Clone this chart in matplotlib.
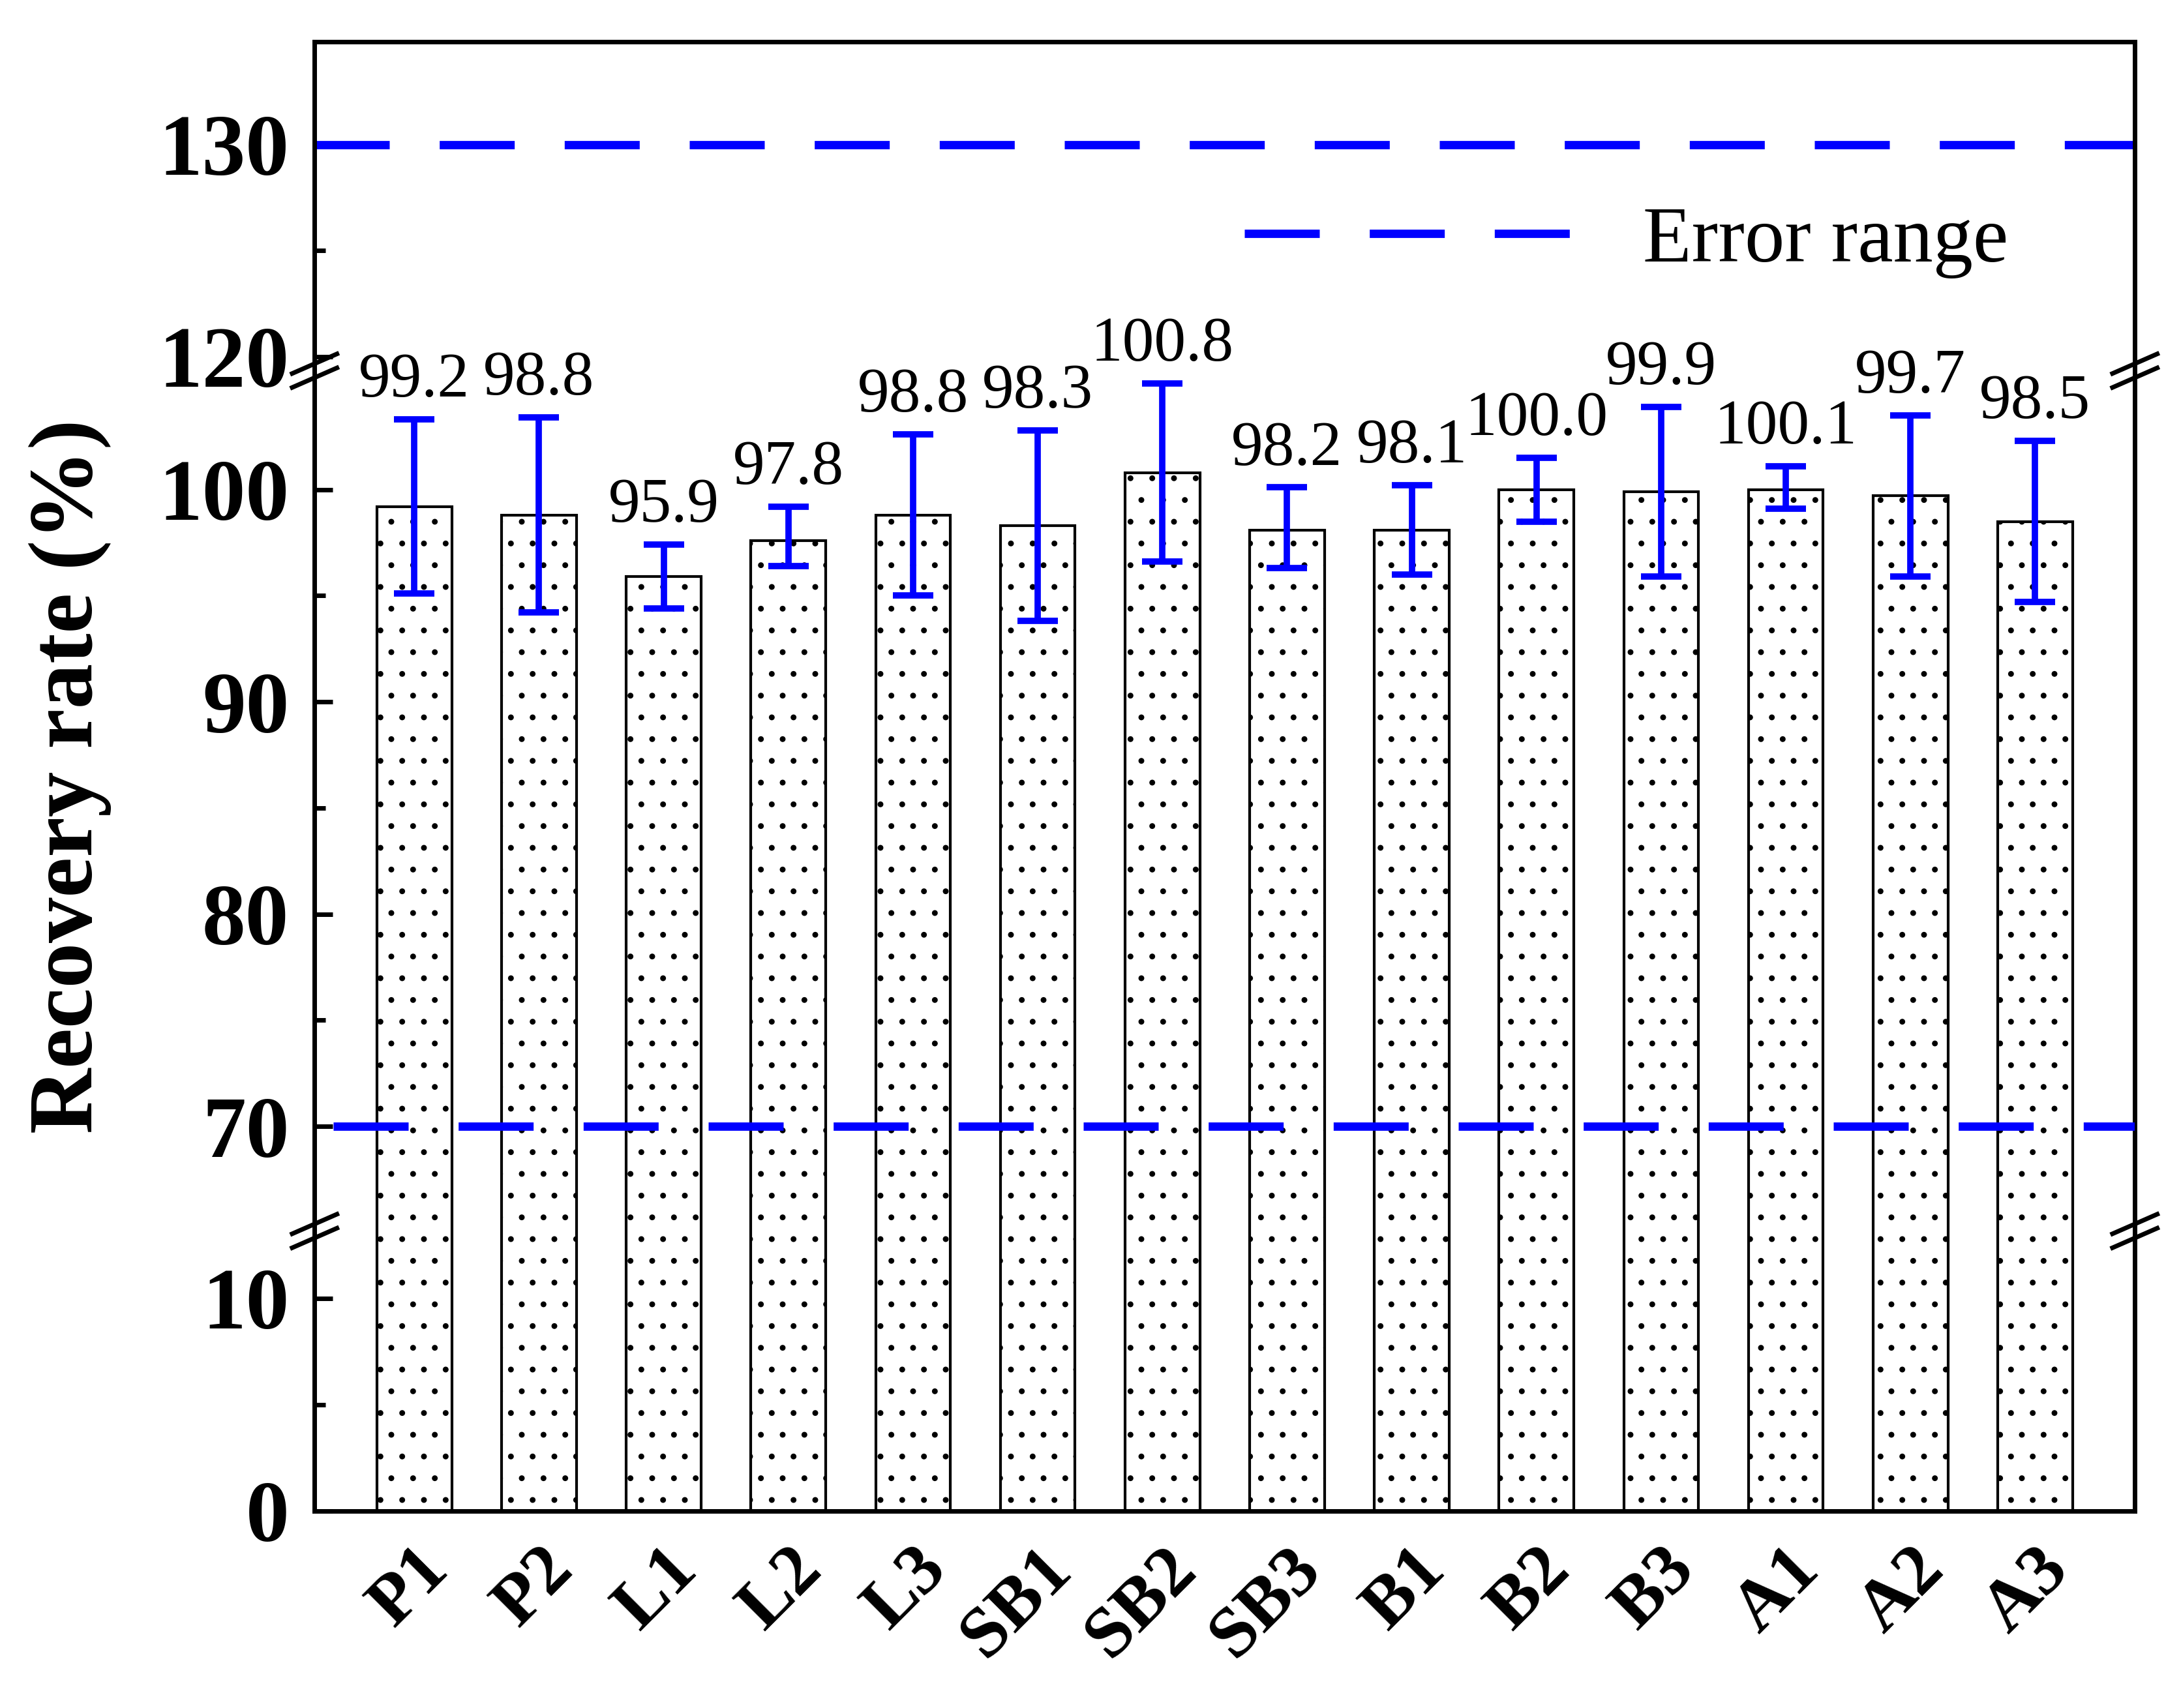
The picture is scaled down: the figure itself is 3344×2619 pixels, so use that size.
import matplotlib
matplotlib.use("Agg")
import matplotlib.pyplot as plt
import numpy as np

categories = ["P1","P2","L1","L2","L3","SB1","SB2","SB3","B1","B2","B3","A1","A2","A3"]
values = [99.2,98.8,95.9,97.8,98.8,98.3,100.8,98.2,98.1,100.0,99.9,100.1,99.7,98.5]
errors = [4.1,4.6,1.5,1.4,3.8,4.5,4.2,1.9,2.1,1.5,4.0,1.0,3.8,3.8]
bar_heights = [99.2,98.8,95.9,97.6,98.8,98.3,100.8,98.1,98.1,100.0,99.9,100.0,99.7,98.5]
upper_limit = 130
lower_limit = 70

plt.rcParams['font.family'] = ['Liberation Serif', 'DejaVu Serif']
plt.rcParams['hatch.linewidth'] = 0.8
BLUE = (0, 0, 1)
fig = plt.figure(figsize=(16.72, 13.095), dpi=200)
H = 1221.0
L, R = 225/1560, 1527/1560
def yf(p): return 1 - p/H
segs = [(30, 265, (119.34, 134.85)), (265, 880, (65.07, 105.6)), (880, 1080, (0, 13.16))]
axes = []
for top, bot, lim in segs:
    ax = fig.add_axes([L, yf(bot), R-L, yf(top)-yf(bot)])
    ax.set_ylim(*lim)
    ax.set_xlim(-0.8, 13.8)
    for s in ax.spines.values():
        s.set_linewidth(2.5)
    axes.append(ax)
ax_t, ax_m, ax_b = axes
ax_t.spines['bottom'].set_visible(False)
ax_m.spines['top'].set_visible(False); ax_m.spines['bottom'].set_visible(False)
ax_b.spines['top'].set_visible(False)
ax_t.set_xticks([]); ax_m.set_xticks([])
ax_t.set_yticks([120, 130]); ax_t.set_yticks([125], minor=True)
ax_m.set_yticks([70, 80, 90, 100]); ax_m.set_yticks([75, 85, 95], minor=True)
ax_b.set_yticks([0, 10]); ax_b.set_yticks([5], minor=True)
for ax in axes:
    ax.tick_params(axis='y', direction='in', length=10, width=2.5, labelsize=48, pad=14)
    ax.tick_params(axis='y', which='minor', direction='in', length=6, width=2.5)
    ax.tick_params(axis='x', length=0)
    for t in ax.get_yticklabels():
        t.set_fontweight('bold')

x = np.arange(len(categories))
for ax in (ax_m, ax_b):
    ax.bar(x, bar_heights, width=0.6, color='white', edgecolor='black', linewidth=1.5, hatch='.')
ax_m.errorbar(x, values, yerr=errors, fmt='none', ecolor=BLUE, elinewidth=3.5, capsize=11, capthick=3.5, zorder=5)
for xi, v, e in zip(x, values, errors):
    ax_m.annotate(f"{v:.1f}", (xi, v+e), xytext=(0, 5), textcoords='offset points',
                  ha='center', va='bottom', fontsize=35, annotation_clip=False, zorder=6)

ax_t.axhline(upper_limit, color=BLUE, lw=4.6, dashes=(9, 6), label='Error range')
ax_m.plot([-0.65, 13.8], [lower_limit]*2, color=BLUE, lw=4.6, dashes=(9, 6), zorder=4)
ax_t.legend(loc='upper right', bbox_to_anchor=(0.97, 0.72), frameon=False, fontsize=44,
            handlelength=4.5, handletextpad=0.5)

ax_b.set_xticks(x)
ax_b.set_xticklabels(categories, rotation=45, ha='right', rotation_mode='anchor',
                     fontsize=40, fontweight='bold')
ax_b.tick_params(axis='x', pad=14)
fig.text(0.032, yf(555), 'Recovery rate (%)', rotation=90, va='center', ha='center',
         fontsize=50, fontweight='bold')

# break marks
for p in (265, 880):
    for xr in (L, R):
        for d in (-5, 5):
            fig.lines.append(plt.Line2D([xr-16/1560, xr+16/1560],
                                        [yf(p+d+7), yf(p+d-7)], color='black', lw=2.5,
                                        transform=fig.transFigure))
fig.savefig('out.png', dpi=200)
